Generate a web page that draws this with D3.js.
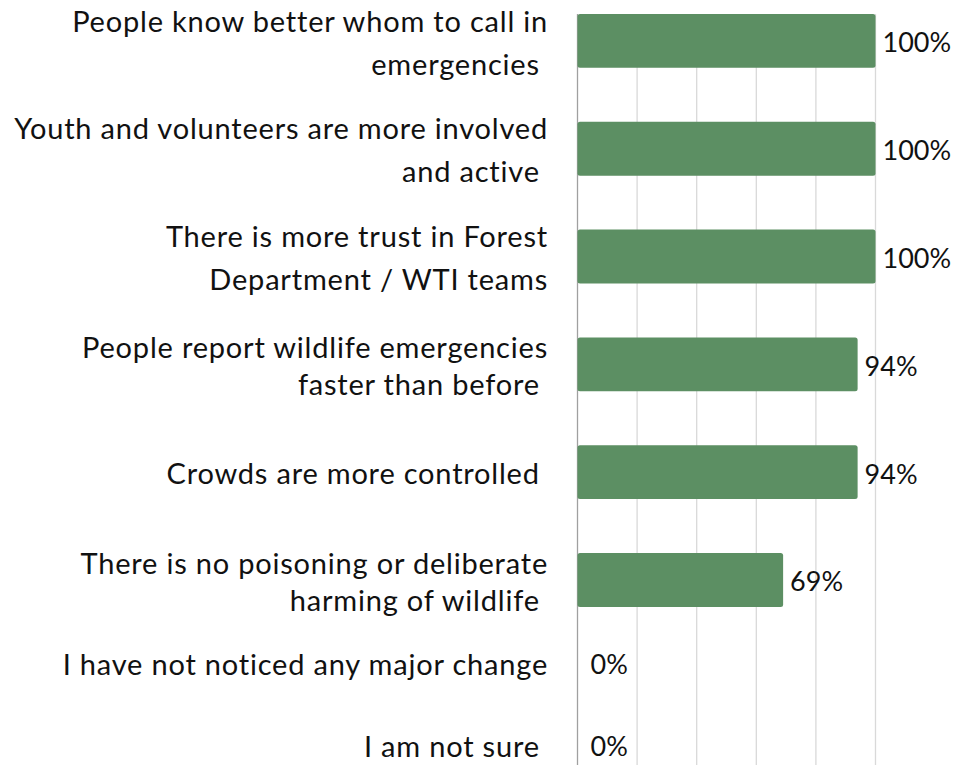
<!DOCTYPE html>
<html>
<head>
<meta charset="utf-8">
<script src="https://cdn.jsdelivr.net/npm/d3@7/dist/d3.min.js"></script>
<style>
  html, body { margin: 0; padding: 0; background: #ffffff; }
  svg { display: block; }
  text { font-family: Lato, "Open Sans", sans-serif; fill: #111111; white-space: pre; }
</style>
</head>
<body>
<svg id="chart" width="953" height="765"></svg>
<script>
// Observed changes reported by respondents (share answering yes)
const categories = [
  "People know better whom to call in\nemergencies ",
  "Youth and volunteers are more involved\nand active ",
  "There is more trust in Forest\nDepartment / WTI teams",
  "People report wildlife emergencies\nfaster than before ",
  "Crowds are more controlled ",
  "There is no poisoning or deliberate\nharming of wildlife ",
  "I have not noticed any major change",
  "I am not sure "
];
const values = [1.00, 1.00, 1.00, 0.94, 0.94, 0.69, 0.00, 0.00];
const valueLabels = ["100%", "100%", "100%", "94%", "94%", "69%", "0%", "0%"];
const gridTicks = [0, 0.2, 0.4, 0.6, 0.8, 1.0];

const W = 953, H = 765;
const svg = d3.select("#chart");

const x = d3.scaleLinear().domain([0, 1]).range([577.5, 875.5]);

const y = d3.scaleBand()
  .domain(categories)
  .range([-13, 849.5])
  .paddingInner(0.5)
  .paddingOuter(0.25);

// The last rows fall below the plot bottom; their labels are pulled up into view
const lastRow = categories.length - 1;
const labelY = d3.scaleLinear()
  .domain([0, 5, lastRow])
  .range([
    y(categories[0]) + y.bandwidth() / 2,
    y(categories[5]) + y.bandwidth() / 2,
    H - 20
  ]);

const plotTop = y(categories[0]);

// Vertical gridlines
svg.append("g")
  .selectAll("line")
  .data(gridTicks)
  .join("line")
  .attr("x1", d => x(d)).attr("x2", d => x(d))
  .attr("y1", plotTop).attr("y2", H)
  .attr("stroke", d => d === 0 ? "#a0a0a0" : "#d9d9d9")
  .attr("stroke-width", 1.3);

// Bars
svg.append("g")
  .selectAll("rect")
  .data(values)
  .join("rect")
  .attr("x", x(0))
  .attr("y", (d, i) => y(categories[i]))
  .attr("width", d => Math.max(0, x(d) - x(0)))
  .attr("height", y.bandwidth())
  .attr("rx", 2.5)
  .attr("fill", "#5c8f63");

// Value labels
svg.append("g")
  .selectAll("text")
  .data(values)
  .join("text")
  .attr("x", d => x(d) + (d === 0 ? 13 : 7))
  .attr("y", (d, i) => labelY(i) + 2)
  .attr("dy", "0.35em")
  .attr("font-size", 27)
  .text((d, i) => valueLabels[i]);

// Category labels, right-aligned next to the axis
const catG = svg.append("g");
categories.forEach((c, i) => {
  const lines = c.split("\n");
  const gap = i < 3 ? 43 : 37;
  const cy = labelY(i) + 2;
  const t = catG.append("text")
    .attr("text-anchor", "end")
    .attr("font-size", 29)
    .attr("letter-spacing", 0.8)
    .attr("x", 548);
  lines.forEach((ln, k) => {
    t.append("tspan")
      .attr("x", 548)
      .attr("y", cy + (k - (lines.length - 1) / 2) * gap)
      .attr("dy", "0.35em")
      .text(ln);
  });
});
</script>
</body>
</html>
